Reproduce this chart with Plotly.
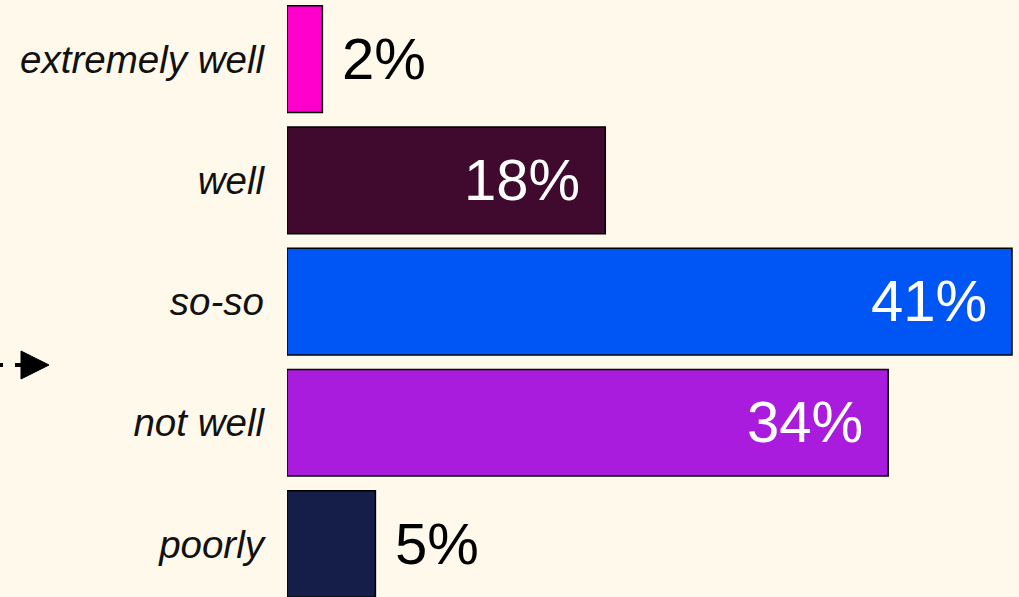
import plotly.graph_objects as go

# Survey answers and their shares (percent)
categories = ["extremely well", "well", "so-so", "not well", "poorly"]
values = [2, 18, 41, 34, 5]
colors = ["#FF00CC", "#400A2E", "#0055F5", "#AA1CDD", "#141E48"]
inside_label = [False, True, True, True, False]

W, H = 1019, 597
BG = "#FEF9EB"

fig = go.Figure(
    go.Bar(
        x=values,
        y=categories,
        orientation="h",
        width=0.88,
        marker=dict(color=colors, line=dict(color="#000000", width=1.5)),
        hoverinfo="skip",
    )
)

# Percentage labels: white inside long bars, black beyond short ones
for cat, val, inside in zip(categories, values, inside_label):
    fig.add_annotation(
        x=val, y=cat, xref="x", yref="y",
        text=f"{val}%", showarrow=False,
        xanchor="right" if inside else "left",
        xshift=-23 if inside else 18,
        yshift=1,
        font=dict(family="Liberation Sans, Arial, sans-serif", size=58,
                  color="#FFFFFF" if inside else "#000000"),
    )

# Dashed pointer arrow at the left edge
def px(x):
    return x / W

def py(y):
    return 1 - y / H

for x0, x1 in [(-2, 3), (15, 23)]:
    fig.add_shape(type="line", xref="paper", yref="paper",
                  x0=px(x0), x1=px(x1), y0=py(365), y1=py(365),
                  line=dict(color="#000000", width=4))
fig.add_shape(type="path", xref="paper", yref="paper",
              path=f"M {px(21)},{py(351)} L {px(49)},{py(365)} L {px(21)},{py(379)} Z",
              fillcolor="#000000", line=dict(color="#000000", width=1))

x_max = 41 * (W - 287) / (1012 - 287)
fig.update_xaxes(range=[0, x_max], domain=[287 / W, 1], visible=False, fixedrange=True)
fig.update_yaxes(
    range=[4.437, -0.487],
    showline=False, showgrid=False, zeroline=False,
    ticks="", ticklabelstandoff=22,
    tickfont=dict(family="Liberation Sans, Arial, sans-serif", size=38.5, color="#111111"),
    labelalias={c: f"<i>{c}</i>" for c in categories},
)

fig.update_layout(
    width=W, height=H,
    margin=dict(l=0, r=0, t=0, b=0),
    paper_bgcolor=BG, plot_bgcolor=BG,
    showlegend=False,
    bargap=0.12,
)

fig.write_html("out.html")
